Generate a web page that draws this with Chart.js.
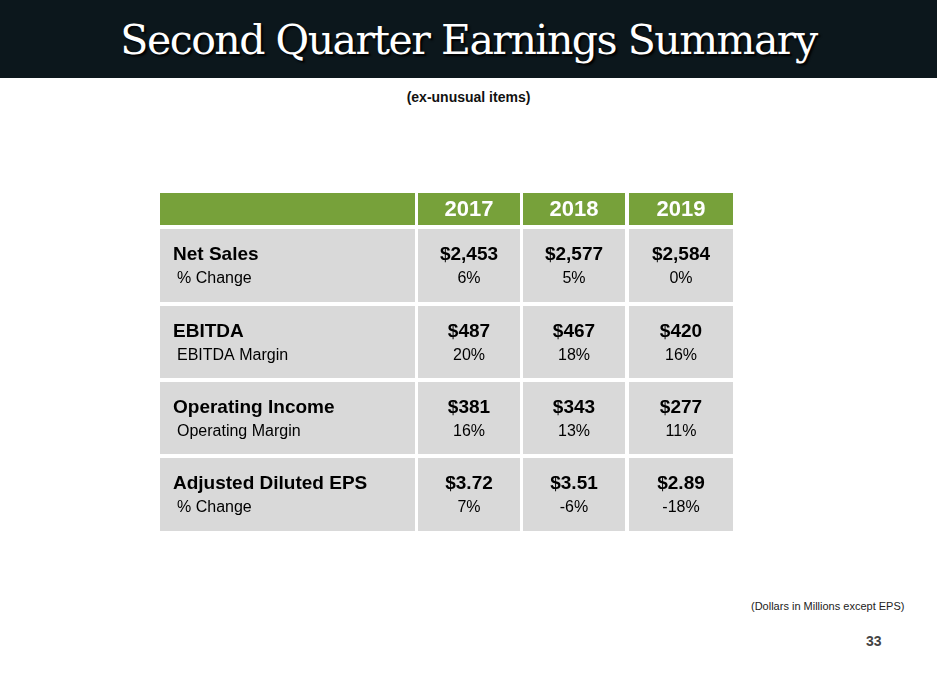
<!DOCTYPE html>
<html><head><meta charset="utf-8">
<script src="https://cdn.jsdelivr.net/npm/chart.js@4/dist/chart.umd.min.js"></script>
<style>
body{margin:0;width:937px;height:673px;background:#fff;position:relative;overflow:hidden;font-family:"Liberation Sans",Arial,sans-serif}
#bar{position:absolute;left:0;top:0;width:937px;height:78px;background:#0c171c}
#title{position:absolute;left:0;width:937px;top:16px;text-align:center;color:#fff;font:41px "DejaVu Serif",serif;letter-spacing:-1.5px;text-shadow:2px 2px 2px #000}
#sub{position:absolute;left:0;width:937px;top:89px;text-align:center;font-weight:bold;font-size:14px;color:#111}
#note{position:absolute;left:751px;top:600px;font-size:11px;color:#222}
#page{position:absolute;left:866px;top:633px;font-size:14px;font-weight:bold;color:#444}
canvas{position:absolute;left:0;top:0}
</style></head><body>
<div id="bar"></div>
<div id="title">Second Quarter Earnings Summary</div>
<div id="sub">(ex-unusual items)</div>
<div id="note">(Dollars in Millions except EPS)</div>
<div id="page">33</div>
<canvas id="c" width="937" height="673"></canvas>
<script>
// Datos de la tabla
const years = ["2017", "2018", "2019"];
const rowLabels = ["Net Sales", "EBITDA", "Operating Income", "Adjusted Diluted EPS"];
const subLabels = ["% Change", "EBITDA Margin", "Operating Margin", "% Change"];
const mainValues = [
    ["$2,453", "$2,577", "$2,584"],
    ["$487", "$467", "$420"],
    ["$381", "$343", "$277"],
    ["$3.72", "$3.51", "$2.89"]
];
const subValues = [
    ["6%", "5%", "0%"],
    ["20%", "18%", "16%"],
    ["16%", "13%", "11%"],
    ["7%", "-6%", "-18%"]
];

// Geometría de la tabla (en unidades de las escalas)
const cols = [[160, 415], [418, 520], [523, 625], [629, 733]];
const header = [193, 225];
const rows = [[229, 302], [306, 378], [382, 454], [458, 531]];

const tablePlugin = {
    id: "table",
    afterDraw(chart) {
        const ctx = chart.ctx, x = chart.scales.x, y = chart.scales.y;
        const px = v => x.getPixelForValue(v), py = v => y.getPixelForValue(v);
        ctx.save();
        // fila de cabecera
        cols.forEach((c, i) => {
            ctx.fillStyle = "#77a13a";
            ctx.fillRect(px(c[0]), py(header[0]), px(c[1]) - px(c[0]), py(header[1]) - py(header[0]));
            if (i > 0) {
                ctx.fillStyle = "#fff";
                ctx.font = "bold 22px 'Liberation Sans', Arial";
                ctx.textAlign = "center"; ctx.textBaseline = "middle";
                ctx.fillText(years[i - 1], (px(c[0]) + px(c[1])) / 2, (py(header[0]) + py(header[1])) / 2 + 1);
            }
        });
        rows.forEach((r, ri) => {
            const top = py(r[0]), bot = py(r[1]);
            cols.forEach((c, ci) => {
                ctx.fillStyle = "#d9d9d9";
                ctx.fillRect(px(c[0]), top, px(c[1]) - px(c[0]), bot - top);
            });
            ctx.fillStyle = "#000";
            ctx.textBaseline = "middle";
            ctx.textAlign = "left";
            ctx.font = "bold 19px 'Liberation Sans', Arial";
            ctx.fillText(rowLabels[ri], px(173), top + 26);
            ctx.font = "16px 'Liberation Sans', Arial";
            ctx.fillText(subLabels[ri], px(177), top + 50);
            ctx.textAlign = "center";
            for (let k = 0; k < 3; k++) {
                const cx = (px(cols[k + 1][0]) + px(cols[k + 1][1])) / 2;
                ctx.font = "bold 19px 'Liberation Sans', Arial";
                ctx.fillText(mainValues[ri][k], cx, top + 26);
                ctx.font = "16px 'Liberation Sans', Arial";
                ctx.fillText(subValues[ri][k], cx, top + 50);
            }
        });
        ctx.restore();
    }
};

new Chart(document.getElementById("c").getContext("2d"), {
    type: "scatter",
    data: { datasets: [{ data: [] }] },
    options: {
        responsive: false, animation: false,
        layout: { padding: 0 },
        plugins: { legend: { display: false }, tooltip: { enabled: false } },
        scales: {
            x: { type: "linear", min: 0, max: 937, display: false },
            y: { type: "linear", min: 0, max: 673, reverse: true, display: false }
        }
    },
    plugins: [tablePlugin]
});
</script>
</body></html>
